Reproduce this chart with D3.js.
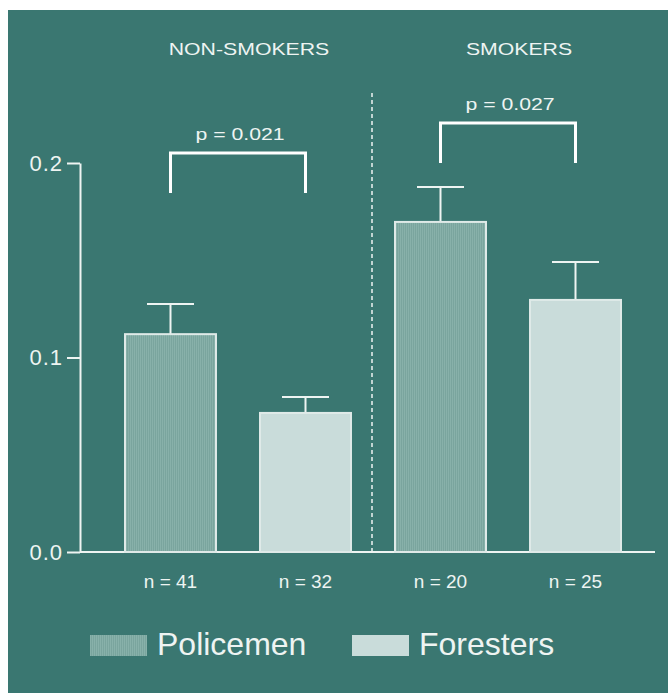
<!DOCTYPE html>
<html>
<head>
<meta charset="utf-8">
<script src="https://cdn.jsdelivr.net/npm/d3@7"></script>
<style>
  html, body { margin: 0; padding: 0; background: #ffffff; }
  svg { display: block; }
</style>
</head>
<body>
<script>
// Group / series data
const groups = ["NON-SMOKERS", "SMOKERS"];
const seriesNames = ["Policemen", "Foresters"];
const means = [0.112, 0.0715, 0.1697, 0.1296];   // NS-Pol, NS-For, S-Pol, S-For
const errTop = [0.1275, 0.0797, 0.1877, 0.1491]; // upper end of error bar
const nLabels = ["n = 41", "n = 32", "n = 20", "n = 25"];
const pLabels = ["p = 0.021", "p = 0.027"];
const yTicks = [0.0, 0.1, 0.2];

const W = 668, H = 693;
const bg = "#3a7771";
const fills = ["#7aa59e", "#c9dcda"];
const fg = "#eef4f2";
const font = "Liberation Sans, Arial, sans-serif";

const svg = d3.select("body").append("svg").attr("width", W).attr("height", H);

// panel background
svg.append("rect").attr("x", 8).attr("y", 10).attr("width", W - 8).attr("height", H - 10).attr("fill", bg);

// fine vertical hatch for the policemen fill
const defs = svg.append("defs");
const pat = defs.append("pattern").attr("id", "pol").attr("width", 2).attr("height", 2)
  .attr("patternUnits", "userSpaceOnUse");
pat.append("rect").attr("width", 2).attr("height", 2).attr("fill", fills[0]);
pat.append("rect").attr("width", 1).attr("height", 2).attr("fill", "#88b1aa");

const y = d3.scaleLinear().domain([0, 0.2]).range([552, 163]);
const x = d3.scaleBand().domain(d3.range(4)).range([111.5, 634.5]).paddingInner(0.326).paddingOuter(0.1);
const cx = i => x(i) + x.bandwidth() / 2;

// horizontally widened label (the header and p-value lettering is wide)
function wideText(parent, tx, ty, str, size) {
  return parent.append("text")
    .attr("transform", `translate(${tx},${ty}) scale(1.25,1)`)
    .attr("text-anchor", "middle")
    .attr("fill", fg).attr("font-family", font).attr("font-size", size)
    .text(str);
}

// y axis
const yAxis = d3.axisLeft(y).tickValues(yTicks).tickFormat(d3.format(".1f")).tickSize(13).tickSizeOuter(0);
const ga = svg.append("g").attr("transform", "translate(80,0)").call(yAxis);
ga.select(".domain").attr("stroke", fg).attr("stroke-width", 2);
ga.selectAll(".tick line").attr("stroke", fg).attr("stroke-width", 2);
ga.selectAll(".tick text").attr("fill", fg).attr("font-family", font).attr("font-size", 22)
  .attr("letter-spacing", 1).attr("x", -17);

// baseline
svg.append("line").attr("x1", 80).attr("x2", 655).attr("y1", y(0)).attr("y2", y(0))
  .attr("stroke", fg).attr("stroke-width", 2);

// divider between groups
svg.append("line").attr("x1", 372).attr("x2", 372).attr("y1", 93).attr("y2", y(0))
  .attr("stroke", fg).attr("stroke-width", 1.5).attr("stroke-dasharray", "4,3");

// error bars
const eb = svg.append("g");
means.forEach((m, i) => {
  eb.append("line").attr("x1", cx(i)).attr("x2", cx(i)).attr("y1", y(m)).attr("y2", y(errTop[i]))
    .attr("stroke", fg).attr("stroke-width", 2);
  eb.append("line").attr("x1", cx(i) - 23.5).attr("x2", cx(i) + 23.5).attr("y1", y(errTop[i])).attr("y2", y(errTop[i]))
    .attr("stroke", fg).attr("stroke-width", 2);
});

// bars
svg.append("g").selectAll("rect").data(means).join("rect")
  .attr("x", (d, i) => x(i))
  .attr("y", d => y(d))
  .attr("width", x.bandwidth())
  .attr("height", d => y(0) - y(d))
  .attr("fill", (d, i) => i % 2 === 0 ? "url(#pol)" : fills[1])
  .attr("stroke", "#dfeae8").attr("stroke-width", 2);

// n labels
svg.append("g").selectAll("text").data(nLabels).join("text")
  .attr("x", (d, i) => cx(i))
  .attr("y", 588)
  .attr("text-anchor", "middle")
  .attr("fill", fg).attr("font-family", font).attr("font-size", 19)
  .text(d => d);

// group headers
const hdrX = [249, 519];
groups.forEach((g, i) => wideText(svg, hdrX[i], 55, g, 17));

// significance brackets
const bracketY = [153, 123];
[0, 1].forEach(g => {
  const xa = cx(2 * g), xb = cx(2 * g + 1);
  const top = bracketY[g];
  svg.append("path")
    .attr("d", `M${xa},${top + 40}V${top}H${xb}V${top + 40}`)
    .attr("fill", "none").attr("stroke", "#ffffff").attr("stroke-width", 3);
  wideText(svg, (xa + xb) / 2 + 2, top - 13, pLabels[g], 17);
});

// legend
const leg = svg.append("g");
const legX = [90, 352];
seriesNames.forEach((s, i) => {
  leg.append("rect").attr("x", legX[i]).attr("y", 635).attr("width", 57).attr("height", 21)
    .attr("fill", i === 0 ? "url(#pol)" : fills[1]);
  leg.append("text").attr("x", legX[i] + 67).attr("y", 655)
    .attr("fill", fg).attr("font-family", font).attr("font-size", 32)
    .text(s);
});
</script>
</body>
</html>
